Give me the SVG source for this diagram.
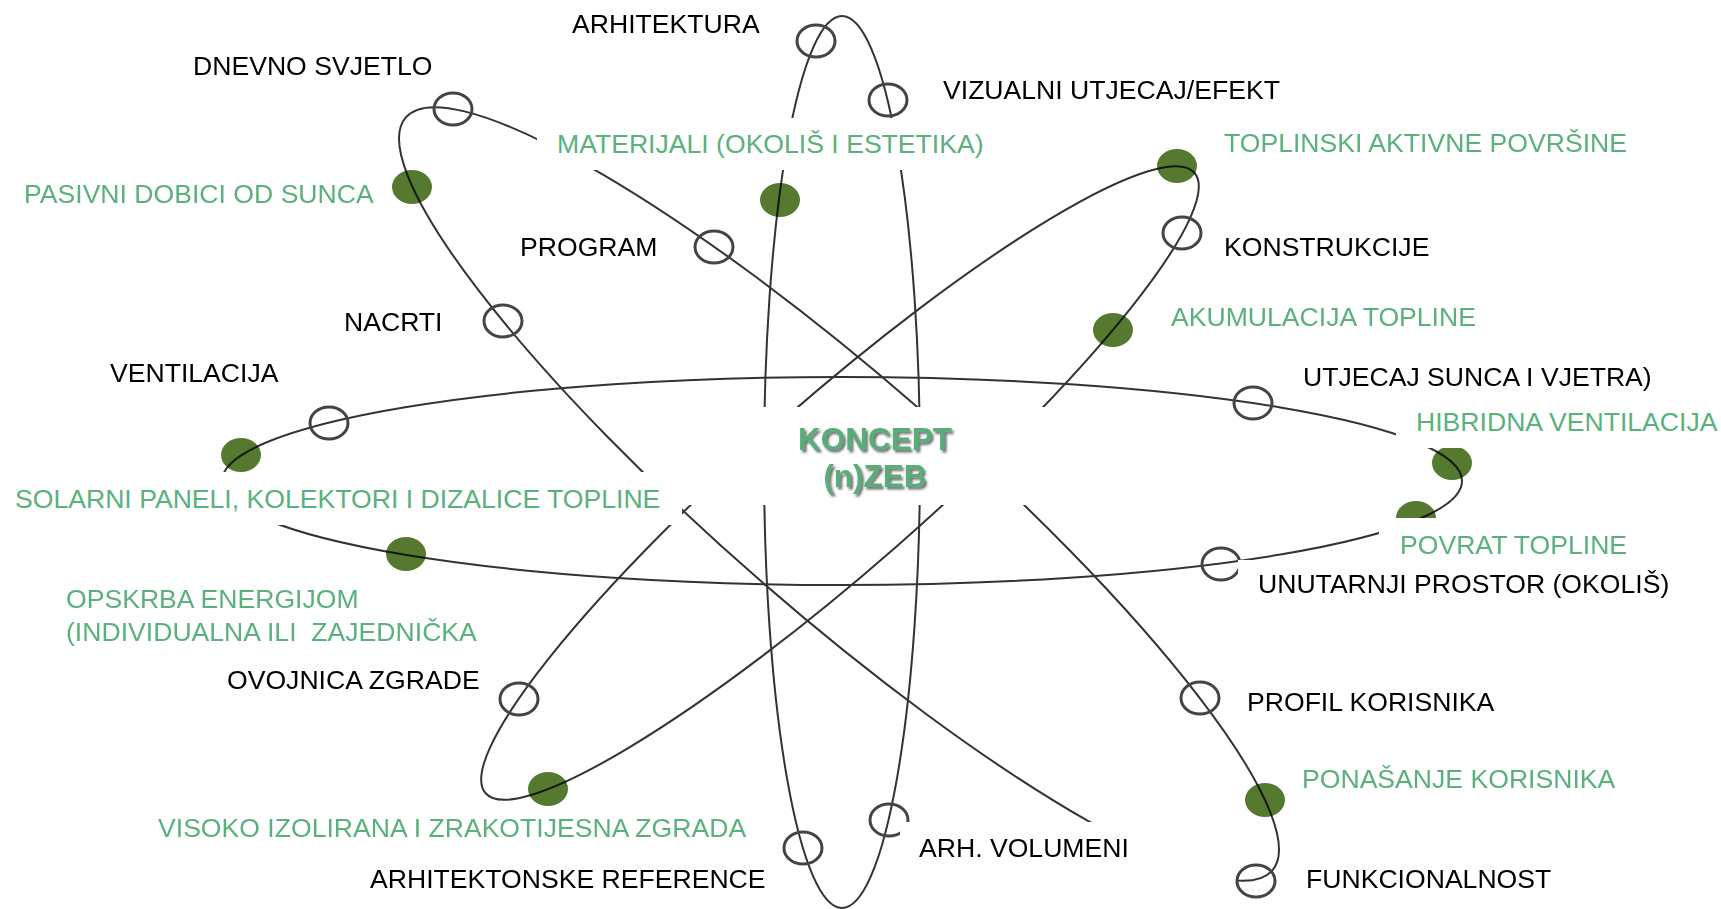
<svg xmlns="http://www.w3.org/2000/svg" width="1721" height="909" viewBox="0 0 1721 909">
<defs>
<style>
.orbit{fill:none;stroke:#333;stroke-width:2}
.ring{fill:none;stroke:#444;stroke-width:3}
.dot{fill:#557a2f;mix-blend-mode:multiply}
.mask{fill:#fff}
.lbl{font-family:"Liberation Sans",Arial,sans-serif;font-size:26.6px;fill:#000}
.g{fill:#5ab17c}
.core{font-family:"Liberation Sans",Arial,sans-serif;font-size:31.5px;font-weight:bold;fill:#58ad78;text-anchor:middle;filter:url(#sh)}
</style>
<filter id="sh" x="-10%" y="-20%" width="130%" height="150%"><feDropShadow dx="2" dy="2.5" stdDeviation="1.2" flood-color="#444" flood-opacity="0.75"/></filter>
</defs>
<rect width="1721" height="909" fill="#fff"/>
<g id="connectors">
<ellipse class="orbit" cx="842" cy="481" rx="620" ry="104"/>
<ellipse class="orbit" cx="842" cy="462" rx="78" ry="446"/>
<ellipse class="orbit" cx="839" cy="494" rx="574" ry="117" transform="rotate(41 839 494)"/>
<ellipse class="orbit" cx="840" cy="483" rx="471" ry="85" transform="rotate(-41.2 840 483)"/>
</g>
<g id="node-dnevno"><ellipse class="ring" cx="453" cy="109" rx="19" ry="16"/><text class="lbl" x="193" y="75">DNEVNO SVJETLO</text></g>
<g id="node-pasivni"><ellipse class="dot" cx="412" cy="187" rx="20" ry="17"/><text class="lbl g" x="24" y="203">PASIVNI DOBICI OD SUNCA</text></g>
<g id="node-nacrti"><ellipse class="ring" cx="503" cy="321" rx="19" ry="16"/><text class="lbl" x="344" y="331">NACRTI</text></g>
<g id="node-program"><ellipse class="ring" cx="714" cy="247" rx="19" ry="16"/><text class="lbl" x="520" y="256">PROGRAM</text></g>
<g id="node-arhitektura"><ellipse class="ring" cx="816" cy="41" rx="19" ry="16"/><text class="lbl" x="572" y="33">ARHITEKTURA</text></g>
<g id="node-vizualni"><ellipse class="ring" cx="888" cy="100" rx="19" ry="16"/><text class="lbl" x="943" y="99">VIZUALNI UTJECAJ/EFEKT</text></g>
<g id="node-materijali"><ellipse class="dot" cx="780" cy="200" rx="20" ry="17"/><rect class="mask" x="537" y="118" width="453" height="52"/><text class="lbl g" x="557" y="153">MATERIJALI (OKOLIŠ I ESTETIKA)</text></g>
<g id="node-toplinski"><ellipse class="dot" cx="1177" cy="166" rx="20" ry="17"/><text class="lbl g" x="1224" y="152">TOPLINSKI AKTIVNE POVRŠINE</text></g>
<g id="node-konstrukcije"><ellipse class="ring" cx="1182" cy="233" rx="19" ry="16"/><text class="lbl" x="1224" y="256">KONSTRUKCIJE</text></g>
<g id="node-akumulacija"><ellipse class="dot" cx="1113" cy="330" rx="20" ry="17"/><text class="lbl g" x="1171" y="326">AKUMULACIJA TOPLINE</text></g>
<g id="node-utjecaj"><ellipse class="ring" cx="1253" cy="403" rx="19" ry="16"/><text class="lbl" x="1303" y="386">UTJECAJ SUNCA I VJETRA)</text></g>
<g id="node-hibridna"><ellipse class="dot" cx="1452" cy="463" rx="20" ry="17"/><rect class="mask" x="1396" y="406" width="325" height="42"/><text class="lbl g" x="1416" y="431">HIBRIDNA VENTILACIJA</text></g>
<g id="node-povrat"><ellipse class="dot" cx="1416" cy="518" rx="20" ry="17"/><rect class="mask" x="1379" y="518" width="342" height="40"/><text class="lbl g" x="1400" y="554">POVRAT TOPLINE</text></g>
<g id="node-unutarnji"><ellipse class="ring" cx="1221" cy="564" rx="19" ry="16"/><rect class="mask" x="1238" y="560" width="440" height="45"/><text class="lbl" x="1258" y="593">UNUTARNJI PROSTOR (OKOLIŠ)</text></g>
<g id="node-ventilacija"><ellipse class="ring" cx="329" cy="423" rx="19" ry="16"/><text class="lbl" x="110" y="382">VENTILACIJA</text></g>
<g id="node-solarni"><ellipse class="dot" cx="241" cy="455" rx="20" ry="17"/><rect class="mask" x="0" y="472" width="682" height="53"/><text class="lbl g" x="15" y="508">SOLARNI PANELI, KOLEKTORI I DIZALICE TOPLINE</text></g>
<g id="node-opskrba"><ellipse class="dot" cx="406" cy="554" rx="20" ry="17"/><text class="lbl g" x="66" y="608">OPSKRBA ENERGIJOM</text><text class="lbl g" x="66" y="641" xml:space="preserve">(INDIVIDUALNA ILI  ZAJEDNIČKA</text></g>
<g id="node-ovojnica"><ellipse class="ring" cx="519" cy="699" rx="19" ry="16"/><text class="lbl" x="227" y="689">OVOJNICA ZGRADE</text></g>
<g id="node-visoko"><ellipse class="dot" cx="548" cy="789" rx="20" ry="17"/><text class="lbl g" x="158" y="837">VISOKO IZOLIRANA I ZRAKOTIJESNA ZGRADA</text></g>
<g id="node-reference"><ellipse class="ring" cx="803" cy="848" rx="19" ry="16"/><text class="lbl" x="370" y="888">ARHITEKTONSKE REFERENCE</text></g>
<g id="node-volumeni"><ellipse class="ring" cx="889" cy="820" rx="19" ry="16"/><rect class="mask" x="900" y="822" width="338" height="87"/><text class="lbl" x="919" y="857">ARH. VOLUMENI</text></g>
<g id="node-profil"><ellipse class="ring" cx="1200" cy="698" rx="19" ry="16"/><text class="lbl" x="1247" y="711">PROFIL KORISNIKA</text></g>
<g id="node-ponasanje"><ellipse class="dot" cx="1265" cy="800" rx="20" ry="17"/><text class="lbl g" x="1302" y="788">PONAŠANJE KORISNIKA</text></g>
<g id="node-funkcionalnost"><ellipse class="ring" cx="1256" cy="881" rx="19" ry="16"/><text class="lbl" x="1306" y="888">FUNKCIONALNOST</text></g>
<g id="node-koncept"><rect class="mask" x="688" y="407" width="372" height="98"/><text class="core" x="875" y="450">KONCEPT</text><text class="core" x="875" y="487">(n)ZEB</text></g>
</svg>
